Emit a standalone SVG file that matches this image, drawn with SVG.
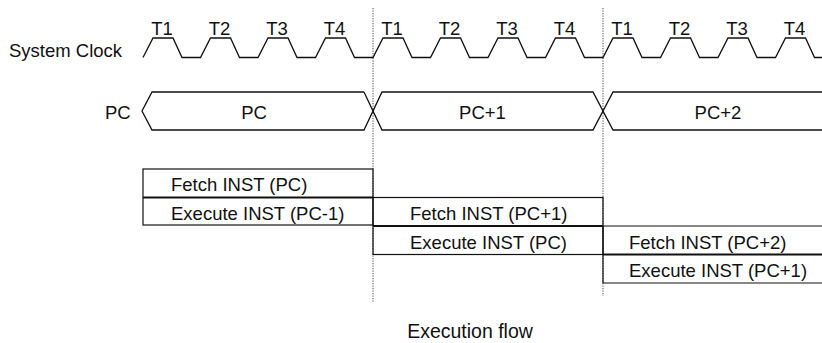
<svg xmlns="http://www.w3.org/2000/svg" width="822" height="343" viewBox="0 0 822 343">
<style>
text{font-family:"Liberation Sans",Arial,sans-serif;font-size:18.5px;fill:#111}
.w{fill:none;stroke:#111;stroke-width:1.3;stroke-linejoin:miter}
.box{fill:none;stroke:#111;stroke-width:1.2}
.mid{stroke:#111;stroke-width:2.2}
.dash{stroke:#444;stroke-width:1;stroke-dasharray:1.2 1.3;fill:none}
.m{text-anchor:middle}
</style>
<rect width="822" height="343" fill="#fff"/>
<g id="connectors">
<line class="dash" x1="373" y1="8" x2="373" y2="302"/>
<line class="dash" x1="603" y1="8" x2="603" y2="296"/>
</g>
<g id="clock">
<text x="9" y="57">System Clock</text>
<path class="w" d="M143,57.5 L153,38 L173,38 L182,57.5 L200.5,57.5 L210.5,38 L230.5,38 L239.5,57.5 L258,57.5 L268,38 L288,38 L297,57.5 L315.5,57.5 L325.5,38 L345.5,38 L354.5,57.5 L373,57.5 L383,38 L403,38 L412,57.5 L430.5,57.5 L440.5,38 L460.5,38 L469.5,57.5 L488,57.5 L498,38 L518,38 L527,57.5 L545.5,57.5 L555.5,38 L575.5,38 L584.5,57.5 L603,57.5 L613,38 L633,38 L642,57.5 L660.5,57.5 L670.5,38 L690.5,38 L699.5,57.5 L718,57.5 L728,38 L748,38 L757,57.5 L775.5,57.5 L785.5,38 L805.5,38 L814.5,57.5 L823,57.5"/>
<text class="m" x="162" y="34.5">T1</text>
<text class="m" x="219.5" y="34.5">T2</text>
<text class="m" x="277" y="34.5">T3</text>
<text class="m" x="334.5" y="34.5">T4</text>
<text class="m" x="392" y="34.5">T1</text>
<text class="m" x="449.5" y="34.5">T2</text>
<text class="m" x="507" y="34.5">T3</text>
<text class="m" x="564.5" y="34.5">T4</text>
<text class="m" x="622" y="34.5">T1</text>
<text class="m" x="679.5" y="34.5">T2</text>
<text class="m" x="737" y="34.5">T3</text>
<text class="m" x="794.5" y="34.5">T4</text>
</g>
<g id="pc-bus">
<text x="105" y="119">PC</text>
<path class="w" d="M364,92 L152,92 L142,111 L152,130 L364,130 L382,92 L593,92 L613,130 L823,130"/>
<path class="w" d="M364,92 L382,130 L593,130 L613,92 L823,92"/>
<text class="m" x="254" y="119">PC</text>
<text class="m" x="482.5" y="119">PC+1</text>
<text class="m" x="718" y="119">PC+2</text>
</g>
<g id="box1">
<rect class="box" x="143" y="169" width="230" height="56"/>
<line class="mid" x1="143" y1="197.5" x2="373" y2="197.5"/>
<text x="171" y="191">Fetch INST (PC)</text>
<text x="171" y="220">Execute INST (PC-1)</text>
</g>
<g id="box2">
<rect class="box" x="373" y="197.5" width="230" height="57"/>
<line class="mid" x1="373" y1="226" x2="603" y2="226"/>
<text x="410" y="220">Fetch INST (PC+1)</text>
<text x="410" y="248.5">Execute INST (PC)</text>
</g>
<g id="box3">
<path class="box" d="M823,226 L603,226 L603,283 L823,283"/>
<line class="mid" x1="603" y1="254.5" x2="823" y2="254.5"/>
<text x="629" y="248.5">Fetch INST (PC+2)</text>
<text x="629" y="277">Execute INST (PC+1)</text>
</g>
<g id="caption">
<text class="m" x="470" y="338" style="font-size:19.5px">Execution flow</text>
</g>
</svg>
